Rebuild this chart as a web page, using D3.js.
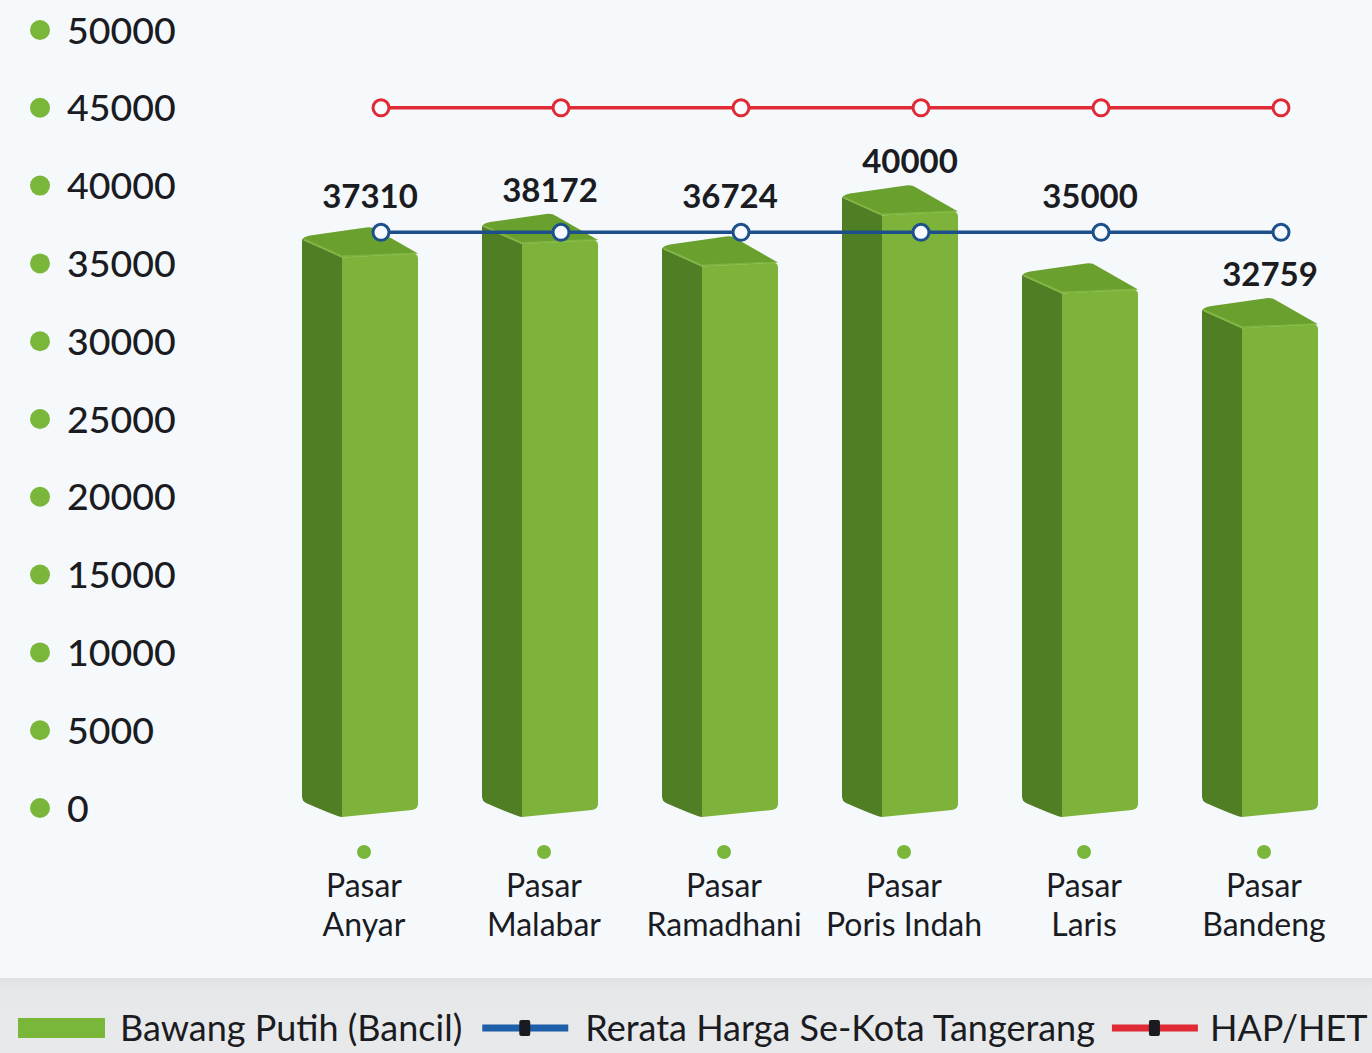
<!DOCTYPE html>
<html><head><meta charset="utf-8">
<script src="https://cdn.jsdelivr.net/npm/d3@7/dist/d3.min.js"></script>
<style>
html,body{margin:0;padding:0;background:#f5f9fc;}
svg{display:block;}
text{font-family:Lato,"Noto Sans",sans-serif;fill:#1b1b22;}
</style></head>
<body><svg id="chart" width="1372" height="1053"></svg>
<script>
const categories = [["Pasar","Anyar"],["Pasar","Malabar"],["Pasar","Ramadhani"],["Pasar","Poris Indah"],["Pasar","Laris"],["Pasar","Bandeng"]];
const barValues = [37310, 38172, 36724, 40000, 35000, 32759];
const avgValues = [37000, 37000, 37000, 37000, 37000, 37000];
const hapValues = [45000, 45000, 45000, 45000, 45000, 45000];
const yTicks = [0, 5000, 10000, 15000, 20000, 25000, 30000, 35000, 40000, 45000, 50000];
const legendLabels = ["Bawang Putih (Bancil)", "Rerata Harga Se-Kota Tangerang", "HAP/HET"];

const svg = d3.select("#chart");
const W = 1372, H = 1053;
svg.append("rect").attr("width", W).attr("height", H).attr("fill", "#f5f9fc");

const keys = categories.map(c => c.join(" "));
const x = d3.scalePoint().domain(keys).range([364, 1264]);
const y = d3.scaleLinear().domain([0, 50000]).range([808, 30]);

// y axis labels with dots
const yg = svg.append("g");
yTicks.forEach(t => {
  yg.append("circle").attr("cx", 40).attr("cy", y(t)).attr("r", 10).attr("fill", "#7ab63a");
  yg.append("text").attr("x", 67).attr("y", y(t)).attr("dy", "0.36em")
    .attr("font-size", 37.5).attr("font-weight", 500).text(t);
});

// 3D bars
const bars = svg.append("g");
const cLeft = "#4f7e24", cFront = "#7db23b", cTop = "#6aa02e";
barValues.forEach((v, i) => {
  const cx = x(keys[i]) - 4;
  const L = cx - 58, S = cx - 18, R = cx + 58;
  const yA = y(v);
  const yb = y(0);
  const g = bars.append("g");
  g.append("path").attr("fill", cLeft)
    .attr("d", `M${L},${yA+12} L${S},${yA+30} L${S},${yb+9} Q${S-4},${yb+9} ${L+4},${yb-5} Q${L},${yb-7} ${L},${yb-12} Z`);
  g.append("path").attr("fill", cFront)
    .attr("d", `M${S},${yA+30} L${R-4},${yA+26} Q${R},${yA+27} ${R},${yA+31} L${R},${yb-4} Q${R},${yb+1} ${R-6},${yb+2} L${S},${yb+9} Z`);
  g.append("path").attr("fill", cTop)
    .attr("d", `M${L},${yA+12} Q${L+2},${yA+9} ${L+8},${yA+8} L${L+64},${yA} Q${L+70},${yA-1} ${L+74},${yA+2} L${R},${yA+26} L${S},${yA+30} Z`);
  g.append("path").attr("fill", "none").attr("stroke", "#8cc24a").attr("stroke-width", 2).attr("opacity", 0.6)
    .attr("d", `M${L+2},${yA+12} L${S},${yA+29} L${R-2},${yA+26}`);
});

// lines
const off = 17;
const lineGen = d3.line().x((d, i) => x(keys[i]) + off).y(d => y(d));
function drawLine(vals, color) {
  const g = svg.append("g");
  g.append("path").datum(vals).attr("d", lineGen).attr("fill", "none").attr("stroke", color).attr("stroke-width", 3.5);
  g.selectAll("circle").data(vals).join("circle")
    .attr("cx", (d, i) => x(keys[i]) + off).attr("cy", d => y(d)).attr("r", 8)
    .attr("fill", "#f7fbff").attr("stroke", color).attr("stroke-width", 3);
}
drawLine(avgValues, "#1d4f8a");
drawLine(hapValues, "#e02a36");

// value labels
const yBlue = y(avgValues[0]);
barValues.forEach((v, i) => {
  const cx = x(keys[i]);
  let ly = y(v) - 24;
  if (ly > yBlue - 34 && ly < yBlue + 24) ly = yBlue - 36;
  svg.append("text").attr("x", cx + 6).attr("y", ly).attr("dy", "0.36em")
    .attr("text-anchor", "middle").attr("font-size", 33).attr("font-weight", 700).text(v);
});

// category labels (two lines per label)
categories.forEach((c, i) => {
  const cx = x(keys[i]);
  svg.append("circle").attr("cx", cx).attr("cy", 852).attr("r", 7).attr("fill", "#7ab63a");
  const t = svg.append("text").attr("text-anchor", "middle").attr("font-size", 32);
  c.forEach((line, j) => {
    t.append("tspan").attr("x", cx).attr("y", 885 + j * 39).attr("dy", "0.36em").text(line);
  });
});

// legend band
const defs = svg.append("defs");
const lg = defs.append("linearGradient").attr("id", "band").attr("x1", 0).attr("x2", 0).attr("y1", 0).attr("y2", 1);
lg.append("stop").attr("offset", 0).attr("stop-color", "#dfe1e3");
lg.append("stop").attr("offset", 0.15).attr("stop-color", "#e7e8e9");
lg.append("stop").attr("offset", 1).attr("stop-color", "#e8e9ea");
svg.append("rect").attr("x", 0).attr("y", 978).attr("width", W).attr("height", H - 978).attr("fill", "url(#band)");

const leg = svg.append("g");
const ly = 1028;
let cx0 = 18;
leg.append("rect").attr("x", cx0).attr("y", ly - 10).attr("width", 87).attr("height", 20).attr("fill", "#7ab63a");
cx0 += 87 + 15;
let t1 = leg.append("text").attr("x", cx0).attr("y", ly).attr("dy", "0.36em").attr("font-size", 36).text(legendLabels[0]);
cx0 += t1.node().getComputedTextLength() + 20;
function lineSwatch(x0, color) {
  leg.append("line").attr("x1", x0).attr("x2", x0 + 86).attr("y1", ly).attr("y2", ly).attr("stroke", color).attr("stroke-width", 7);
  leg.append("rect").attr("x", x0 + 37).attr("y", ly - 8).attr("width", 11).attr("height", 16).attr("rx", 2).attr("fill", "#1a1a22");
}
lineSwatch(cx0, "#1d5fa8");
cx0 += 86 + 17;
let t2 = leg.append("text").attr("x", cx0).attr("y", ly).attr("dy", "0.36em").attr("font-size", 36).text(legendLabels[1]);
cx0 += t2.node().getComputedTextLength() + 17;
lineSwatch(cx0, "#e02a36");
cx0 += 86 + 12;
leg.append("text").attr("x", cx0).attr("y", ly).attr("dy", "0.36em").attr("font-size", 36).text(legendLabels[2]);
</script></body></html>
